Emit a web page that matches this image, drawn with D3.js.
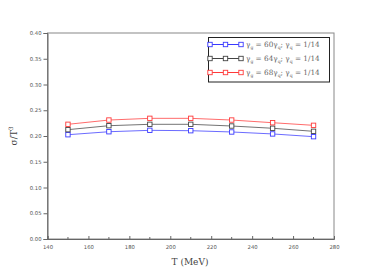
<!DOCTYPE html>
<html><head><meta charset="utf-8">
<script src="https://cdn.jsdelivr.net/npm/d3@7"></script>
<style>body{margin:0;background:#fff}svg{display:block}</style>
</head><body><svg id="c" width="382" height="274"></svg>
<script>
const temps = [150, 170, 190, 210, 230, 250, 270];
const ratios = [60, 64, 68];
const blueVals = [0.2025, 0.2083, 0.2110, 0.2103, 0.2078, 0.2040, 0.1987];
const blackVals = [0.2123, 0.2200, 0.2227, 0.2227, 0.2194, 0.2150, 0.2091];
const redVals = [0.2227, 0.2310, 0.2343, 0.2343, 0.2310, 0.2258, 0.2207];
const xTicks = [140, 160, 180, 200, 220, 240, 260, 280];
const xMinor = [150, 170, 190, 210, 230, 250, 270];
const yTicks = [0, 0.05, 0.10, 0.15, 0.20, 0.25, 0.30, 0.35, 0.40];
const colors = ["#3a3aff", "#444444", "#ff3a3a"];
const seriesVals = [blueVals, blackVals, redVals];

const svg = d3.select("#c");
const L = 47.5, R = 334, T = 33, B = 239;
const x = d3.scaleLinear().domain([140, 280]).range([L, R]);
const y = d3.scaleLinear().domain([0, 0.40]).range([B, T]);

svg.append("rect").attr("x", L).attr("y", T).attr("width", R - L).attr("height", B - T)
  .attr("fill", "none").attr("stroke", "#888").attr("stroke-width", 1);

const fontSans = "'DejaVu Sans', sans-serif";
const xa = svg.append("g").attr("transform", `translate(0,${B})`)
  .call(d3.axisBottom(x).tickValues(xTicks).tickFormat(d3.format("d")).tickSize(-3).tickPadding(5));
xa.select(".domain").attr("stroke", "#666");
xa.selectAll(".tick line").attr("stroke", "#666");
xa.selectAll("text").attr("font-size", 5.3).attr("fill", "#555").attr("font-family", fontSans).attr("dy", "0.9em");
svg.append("g").selectAll("line").data(xMinor).join("line")
  .attr("x1", d => x(d)).attr("x2", d => x(d)).attr("y1", B).attr("y2", B - 2)
  .attr("stroke", "#666").attr("stroke-width", 1);

const ya = svg.append("g").attr("transform", `translate(${L},0)`)
  .call(d3.axisLeft(y).tickValues(yTicks).tickFormat(d3.format(".2f")).tickSize(4).tickPadding(2));
ya.select(".domain").attr("stroke", "#666");
ya.selectAll(".tick line").attr("stroke", "#666");
ya.selectAll("text").attr("font-size", 5.3).attr("fill", "#555").attr("font-family", fontSans);

const line = d3.line().x((d, i) => x(temps[i])).y(d => y(d));
seriesVals.forEach((vals, k) => {
  const g = svg.append("g");
  g.append("path").datum(vals).attr("d", line).attr("fill", "none")
    .attr("stroke", colors[k]).attr("stroke-width", 1).attr("stroke-opacity", 0.75);
  g.selectAll("rect").data(vals).join("rect")
    .attr("x", (d, i) => x(temps[i]) - 2.2).attr("y", d => y(d) - 2.2)
    .attr("width", 4.4).attr("height", 4.4)
    .attr("fill", "#fff").attr("stroke", colors[k]).attr("stroke-width", 0.9);
});

const lg = svg.append("g");
lg.append("rect").attr("x", 208.5).attr("y", 37.5).attr("width", 121).attr("height", 44.5)
  .attr("fill", "#fff").attr("stroke", "#222").attr("stroke-width", 1);
const rowsY = [44.5, 58.5, 72.5];
ratios.forEach((r, k) => {
  const yy = rowsY[k];
  lg.append("line").attr("x1", 210).attr("x2", 241).attr("y1", yy).attr("y2", yy)
    .attr("stroke", colors[k]).attr("stroke-width", 1);
  [210, 225.5, 241].forEach(xx => {
    lg.append("rect").attr("x", xx - 2.2).attr("y", yy - 2.2).attr("width", 4.4).attr("height", 4.4)
      .attr("fill", "#fff").attr("stroke", colors[k]).attr("stroke-width", 0.9);
  });
  const t = lg.append("text").attr("x", 246).attr("y", yy + 2.5)
    .attr("font-family", "'DejaVu Serif', serif").attr("font-size", 7.3).attr("fill", "#666");
  t.append("tspan").text("γ");
  t.append("tspan").text("g").attr("font-size", 4.5).attr("dy", 1.5);
  t.append("tspan").text(" = " + r + "γ").attr("dy", -1.5);
  t.append("tspan").text("q").attr("font-size", 4.5).attr("dy", 1.5);
  t.append("tspan").text("; γ").attr("dy", -1.5);
  t.append("tspan").text("q").attr("font-size", 4.5).attr("dy", 1.5);
  t.append("tspan").text(" = 1/14").attr("dy", -1.5);
});

svg.append("text").attr("x", 190).attr("y", 265).attr("text-anchor", "middle")
  .attr("font-family", "'DejaVu Serif', serif").attr("font-size", 9).attr("fill", "#444")
  .text("T (MeV)");
const yl = svg.append("text").attr("transform", "translate(17,136) rotate(-90)")
  .attr("text-anchor", "middle").attr("font-family", "'DejaVu Serif', serif")
  .attr("font-size", 9).attr("fill", "#444");
yl.append("tspan").text("σ/T");
yl.append("tspan").text("3").attr("font-size", 6).attr("dy", -4);
</script></body></html>
